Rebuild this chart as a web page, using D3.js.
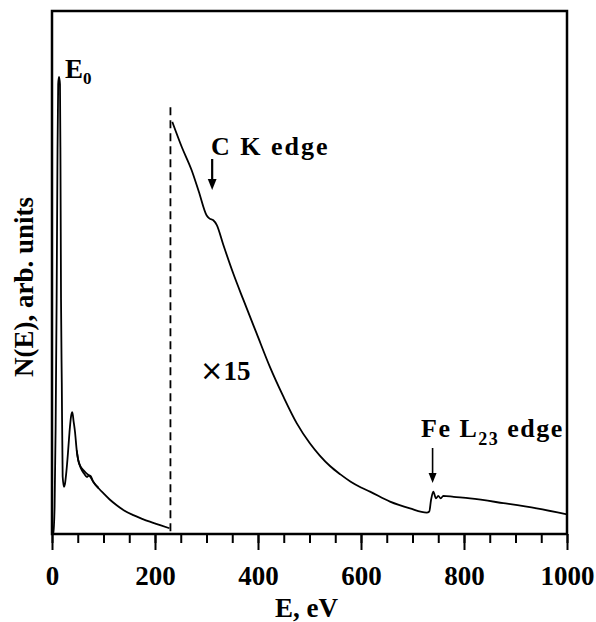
<!DOCTYPE html>
<html>
<head>
<meta charset="utf-8">
<script src="https://cdn.jsdelivr.net/npm/d3@7"></script>
<style>
  body { margin: 0; background: #fff; }
  text { font-family: "Liberation Serif", "Times New Roman", serif; font-weight: bold; }
</style>
</head>
<body>
<svg id="chart"></svg>
<script>
// low-loss part, real scale
const lowE = [0, 2.5, 5, 7, 9, 10.5, 12, 13.6, 15.5, 16.5, 17.5, 19, 20.7, 23.3, 25, 28, 31, 34, 37, 39.4, 42, 44.7, 48, 51, 55, 60.8, 67, 73.8, 80, 90, 99.6, 112, 125.6, 140, 157.9, 175, 190, 210, 228]
const lowN = [0, 0.2, 5, 20, 45, 70, 86, 87.4, 86, 70, 45, 29, 11, 9, 9.5, 12, 15.5, 19.5, 22.5, 23.3, 21.5, 19.5, 16, 14.1, 13, 12.2, 11.6, 11.0, 10, 8.8, 7.8, 6.6, 5.5, 4.5, 3.6, 2.9, 2.35, 1.7, 1.1]
// second trace around the plasmon tail
const low2E = [48, 51, 56, 62, 68, 72, 75, 80, 90]
const low2N = [16, 14.1, 12.6, 11.6, 10.9, 11.2, 11.1, 10.0, 8.8]

// core-loss part, shown x15
const highE = [233.6, 252, 271, 285, 300.4, 306, 313.2, 319.8, 332.6, 352, 371.5, 397.5, 423.3, 449.1, 475.1, 501, 520, 539.8, 560, 580, 600, 617.5, 656.3, 695.1, 727.6, 732.6, 736, 740.4, 745.6, 750, 754.8, 759.8, 780, 811.7, 876.3, 941.2, 1000]
const highN = [78.8, 74, 69.6, 65.5, 60.9, 60.3, 60.0, 59.1, 55.3, 49.8, 44.8, 38.3, 31.9, 26.3, 21.2, 17.3, 15, 13.0, 11.4, 10.0, 8.9, 8.1, 6.2, 4.9, 4.1, 4.3, 6.5, 8.1, 6.8, 7.3, 6.8, 7.3, 7.1, 6.8, 5.9, 4.9, 3.75]

const xTicks = [0, 200, 400, 600, 800, 1000]
const splitE = 230
const edgeCK = 311
const edgeFe = 739

const width = 596, height = 622
const margin = {top: 11, right: 29, bottom: 88, left: 52}

const svg = d3.select('#chart')
    .attr('width', width)
    .attr('height', height)

const x = d3.scaleLinear().domain([0, 1000]).range([margin.left, width - margin.right])
const y = d3.scaleLinear().domain([0, 100]).range([height - margin.bottom, margin.top])

const line = d3.line()
    .x(d => x(d[0]))
    .y(d => y(d[1]))
    .curve(d3.curveMonotoneX)

const drawCurve = (es, ns) => {
    svg.append('path')
        .datum(es.map((e, i) => [e, ns[i]]))
        .attr('d', line)
        .attr('fill', 'none')
        .attr('stroke', '#000')
        .attr('stroke-width', 1.8)
        .attr('stroke-linejoin', 'round')
}

drawCurve(lowE, lowN)
drawCurve(low2E, low2N)
drawCurve(highE, highN)

// dashed separator
svg.append('line')
    .attr('x1', x(splitE)).attr('x2', x(splitE))
    .attr('y1', y(81.6)).attr('y2', y(0))
    .attr('stroke', '#000')
    .attr('stroke-width', 1.8)
    .attr('stroke-dasharray', '8,5')

// minor ticks
svg.append('g')
    .attr('transform', `translate(0,${y(0)})`)
    .call(d3.axisBottom(x).tickValues(d3.range(0, 1001, 50)).tickSize(9).tickFormat(''))
    .call(g => g.select('.domain').remove())
    .call(g => g.selectAll('line').attr('stroke-width', 2))

// major ticks + labels
svg.append('g')
    .attr('transform', `translate(0,${y(0)})`)
    .call(d3.axisBottom(x).tickValues(xTicks).tickSize(16).tickFormat(d3.format('d')))
    .call(g => g.select('.domain').remove())
    .call(g => g.selectAll('line').attr('stroke-width', 2))
    .call(g => g.selectAll('text')
        .attr('y', 51).attr('dy', 0)
        .attr('font-size', 27)
        .attr('font-family', '"Liberation Serif", serif')
        .attr('font-weight', 'bold')
        .attr('fill', '#000'))

// frame
svg.append('rect')
    .attr('x', x(0)).attr('y', y(100))
    .attr('width', x(1000) - x(0))
    .attr('height', y(0) - y(100))
    .attr('fill', 'none')
    .attr('stroke', '#000')
    .attr('stroke-width', 2.5)

// axis titles
svg.append('text')
    .attr('x', (x(0) + x(1000)) / 2 - 3)
    .attr('y', 617)
    .attr('text-anchor', 'middle')
    .attr('font-size', 27)
    .text('E, eV')

svg.append('text')
    .attr('transform', `translate(33,287) rotate(-90)`)
    .attr('text-anchor', 'middle')
    .attr('font-size', 27)
    .text('N(E), arb. units')

// E0 label
const e0 = svg.append('text')
    .attr('x', 65).attr('y', 78)
    .attr('font-size', 27)
e0.append('tspan').text('E')
e0.append('tspan').attr('font-size', 17).attr('dy', 6).text('0')

// x15
const mult = svg.append('text')
    .attr('x', 200).attr('y', 380)
    .attr('font-size', 27)
mult.append('tspan')
    .attr('font-family', '"DejaVu Sans", sans-serif')
    .attr('font-weight', 'normal')
    .attr('font-size', 28)
    .text('×')
mult.append('tspan').text('15')

// arrows
const arrow = (e, y1, y2, w, head) => {
    svg.append('line')
        .attr('x1', x(e)).attr('x2', x(e))
        .attr('y1', y1).attr('y2', y2 - head)
        .attr('stroke', '#000').attr('stroke-width', w)
    svg.append('path')
        .attr('d', `M${x(e) - head * 0.4},${y2 - head} L${x(e) + head * 0.4},${y2 - head} L${x(e)},${y2} Z`)
        .attr('fill', '#000')
}
arrow(edgeCK, 159, 190, 2.2, 11)
arrow(edgeFe, 448, 483, 1.6, 10)

svg.append('text')
    .attr('x', 211).attr('y', 155)
    .attr('font-size', 26)
    .attr('letter-spacing', 2)
    .text('C K edge')

const fe = svg.append('text')
    .attr('x', 421).attr('y', 437)
    .attr('font-size', 26)
    .attr('letter-spacing', 1.5)
fe.append('tspan').text('Fe L')
fe.append('tspan').attr('font-size', 18).attr('dy', 8).text('23')
fe.append('tspan').attr('dy', -8).text(' edge')
</script>
</body>
</html>
